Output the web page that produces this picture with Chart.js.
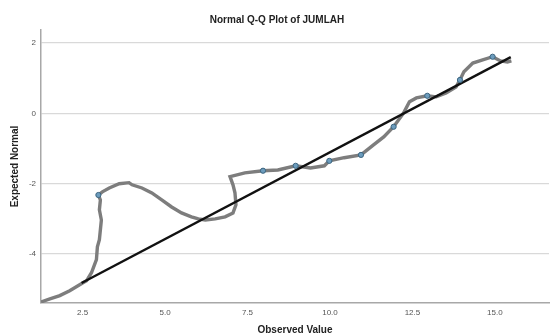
<!DOCTYPE html>
<html>
<head>
<meta charset="utf-8">
<script src="https://cdn.jsdelivr.net/npm/chart.js@4"></script>
<style>
  html, body { margin: 0; padding: 0; background: #fff; }
  #wrap { width: 554px; height: 336px; }
</style>
</head>
<body>
<div id="wrap"><canvas id="qq"></canvas></div>
<script>
const curveX = [1.24, 1.51, 1.81, 2.11, 2.50, 2.62, 2.77, 2.92, 2.95, 3.01, 3.07, 3.01, 3.04, 2.98, 3.10, 3.31, 3.61, 3.91, 4.00, 4.30, 4.60, 4.90, 5.20, 5.50, 5.80, 6.01, 6.22, 6.52, 6.82, 7.06, 7.15, 7.12, 7.06, 6.97, 7.42, 7.97, 8.42, 8.96, 9.41, 9.83, 9.98, 10.43, 10.94, 11.33, 11.63, 11.93, 12.23, 12.41, 12.62, 12.95, 13.22, 13.52, 13.82, 13.94, 14.06, 14.33, 14.63, 14.93, 15.17, 15.38, 15.50];
const curveY = [-5.36, -5.27, -5.18, -5.04, -4.82, -4.76, -4.53, -4.16, -3.79, -3.59, -3.03, -2.74, -2.46, -2.32, -2.23, -2.12, -2.00, -1.97, -2.03, -2.12, -2.26, -2.46, -2.66, -2.83, -2.94, -3.00, -3.03, -3.00, -2.94, -2.83, -2.60, -2.26, -2.03, -1.80, -1.69, -1.63, -1.61, -1.49, -1.55, -1.49, -1.35, -1.26, -1.18, -0.89, -0.67, -0.38, 0.01, 0.33, 0.44, 0.50, 0.47, 0.58, 0.75, 0.95, 1.18, 1.43, 1.52, 1.61, 1.49, 1.46, 1.49];

// the few markers that stand out as circles
const dotX = [2.98, 7.97, 8.96, 9.98, 10.94, 11.93, 12.95, 13.94, 14.93];
const dotY = [-2.32, -1.63, -1.49, -1.35, -1.18, -0.38, 0.50, 0.95, 1.61];

// reference line
const refX = [2.47, 15.48];
const refY = [-4.82, 1.60];

const xTicks = [2.5, 5.0, 7.5, 10.0, 12.5, 15.0];
const yTicks = [-4, -2, 0, 2];

const zip = (xs, ys) => xs.map((x, i) => ({ x, y: ys[i] }));
const FONT = "'Liberation Sans', Arial, sans-serif";

new Chart(document.getElementById("qq"), {
    type: "scatter",
    data: {
        datasets: [
            {
                data: zip(dotX, dotY),
                pointRadius: 2.6,
                pointBackgroundColor: "#6c9cbd",
                pointBorderColor: "#3c6580",
                pointBorderWidth: 1,
                order: 1
            },
            {
                data: zip(refX, refY),
                showLine: true,
                borderColor: "#111111",
                borderWidth: 2.4,
                pointRadius: 0,
                order: 2
            },
            {
                data: zip(curveX, curveY),
                showLine: true,
                borderColor: "#7d7d7d",
                borderWidth: 3.4,
                pointRadius: 0,
                tension: 0,
                order: 3
            }
        ]
    },
    options: {
        responsive: true,
        maintainAspectRatio: false,
        animation: false,
        layout: { padding: 0 },
        plugins: {
            legend: { display: false },
            tooltip: { enabled: false },
            title: {
                display: true,
                text: "Normal Q-Q Plot of JUMLAH",
                color: "#222",
                font: { family: FONT, size: 10, weight: "bold" },
                padding: { top: 14, bottom: 4 }
            }
        },
        scales: {
            x: {
                type: "linear",
                min: 1.24,
                max: 16.64,
                afterBuildTicks: (axis) => { axis.ticks = xTicks.map(v => ({ value: v })); },
                afterFit: (axis) => { axis.height = 33; },
                grid: { display: false, drawTicks: false },
                border: { display: true, color: "#a8a8a8", width: 1.5 },
                ticks: {
                    color: "#555",
                    padding: 5,
                    font: { family: FONT, size: 8 },
                    callback: (v) => v.toFixed(1)
                },
                title: {
                    display: true,
                    text: "Observed Value",
                    color: "#222",
                    padding: { top: 4, bottom: 0 },
                    font: { family: FONT, size: 10, weight: "bold" }
                }
            },
            y: {
                type: "linear",
                min: -5.39,
                max: 2.37,
                afterBuildTicks: (axis) => { axis.ticks = yTicks.map(v => ({ value: v })); },
                afterFit: (axis) => { axis.width = 41; },
                grid: { color: "#d9d9d9", lineWidth: 1.2, drawTicks: false },
                border: { display: true, color: "#a8a8a8", width: 1.5 },
                ticks: {
                    color: "#555",
                    padding: 5,
                    font: { family: FONT, size: 8 }
                },
                title: {
                    display: true,
                    text: "Expected Normal",
                    color: "#222",
                    padding: { top: 9, bottom: 0 },
                    font: { family: FONT, size: 10, weight: "bold" }
                }
            }
        }
    }
});
</script>
</body>
</html>
